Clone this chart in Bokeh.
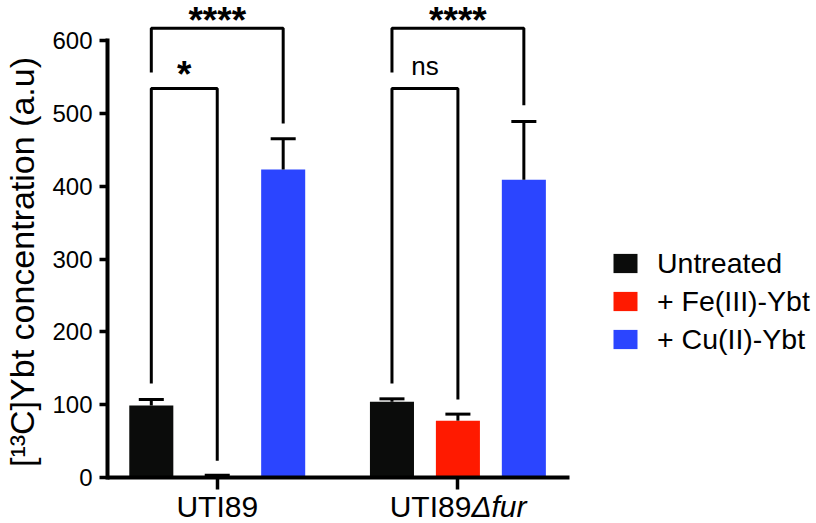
from bokeh.plotting import figure
from bokeh.models import Legend, LegendItem, FixedTicker, Range1d
from bokeh.core.properties import value
from bokeh.embed import file_html
from bokeh.resources import INLINE

# ---------------- data ----------------
groups = ["UTI89", "UTI89"]       # upright part of each group label
group_suffix = ["", "Δfur"]       # italic part of each group label
series = ["Untreated", "+ Fe(III)-Ybt", "+ Cu(II)-Ybt"]
colors = ["#0b0c0b", "#ff1a00", "#2b45ff"]
mean_uti89 = [99, 2, 423]
err_uti89 = [8, 1, 42]
mean_fur = [104, 78, 409]
err_fur = [4, 9, 80]
y_ticks = [0, 100, 200, 300, 400, 500, 600]

# significance brackets: group, bar from, bar to, top, left/right leg ends, label
sig_group = [0, 0, 1, 1]
sig_from = [0, 0, 0, 0]
sig_to = [1, 2, 1, 2]
sig_top = [534, 617, 534, 617]
sig_left_end = [129, 556, 129, 556]
sig_right_end = [23, 486, 107, 511]
sig_label = ["*", "****", "ns", "****"]

# ---------------- layout ----------------
OFFSET = 0.274
BAR_W = 0.183
CAP_W = 0.104
Y_START, Y_END = -63.2, 655
X_START, X_END = -0.456, 2.49
FONT = "Liberation Sans"

means = [mean_uti89, mean_fur]
errs = [err_uti89, err_fur]

p = figure(width=816, height=523, output_backend="svg", toolbar_location=None,
           x_range=Range1d(X_START, X_END), y_range=Range1d(Y_START, Y_END),
           min_border_left=106, min_border_right=0, min_border_top=0,
           min_border_bottom=0)
p.outline_line_color = None
p.grid.visible = False
p.background_fill_color = "white"

def bx(g, i):
    return g + (i - 1) * OFFSET

renderers = []
for i, s in enumerate(series):
    xs = [bx(g, i) for g in range(len(means))]
    tops = [means[g][i] for g in range(len(means))]
    r = p.vbar(x=xs, top=tops, bottom=0, width=BAR_W, fill_color=colors[i],
               line_color=None)
    renderers.append(r)
    hi = [means[g][i] + errs[g][i] for g in range(len(means))]
    p.segment(x0=xs, y0=tops, x1=xs, y1=hi, line_color="black", line_width=3)
    p.segment(x0=[x - CAP_W / 2 for x in xs], y0=hi,
              x1=[x + CAP_W / 2 for x in xs], y1=hi,
              line_color="black", line_width=3)

# brackets
bxs, bys = [], []
tx, ty, tl, tsz, tst = [], [], [], [], []
for k in range(len(sig_label)):
    x0 = bx(sig_group[k], sig_from[k])
    x1 = bx(sig_group[k], sig_to[k])
    bxs.append([x0, x0, x1, x1])
    bys.append([sig_left_end[k], sig_top[k], sig_top[k], sig_right_end[k]])
    tx.append((x0 + x1) / 2)
    if "*" in sig_label[k]:
        ty.append(min(sig_top[k] + 19.3, Y_END - 27.5))
        tsz.append("37px")
        tst.append("bold")
    else:
        ty.append(sig_top[k] + 31)
        tsz.append("26px")
        tst.append("normal")
    tl.append(sig_label[k])
p.multi_line(xs=bxs, ys=bys, line_color="black", line_width=3)
p.text(x=tx, y=ty, text=tl, text_font_size=tsz, text_font_style=tst,
       text_align="center", text_baseline="alphabetic",
       text_font=value(FONT), text_color="black")

# axes
for ax in (p.xaxis[0], p.yaxis[0]):
    ax.axis_line_width = 4
    ax.axis_line_color = "black"
    ax.axis_line_cap = "square"
    ax.major_tick_line_color = "black"
    ax.major_tick_line_width = 3.5
    ax.major_tick_in = 0
    ax.minor_tick_line_color = None
    ax.major_label_text_font = FONT
    ax.major_label_text_color = "black"

p.yaxis.ticker = FixedTicker(ticks=y_ticks)
p.yaxis.bounds = (0, 600)
p.yaxis.major_tick_out = 8
p.yaxis.major_label_text_font_size = "24px"
p.yaxis.major_label_standoff = 7
p.yaxis.axis_label = "[¹³C]Ybt concentration (a.u)"
p.yaxis.axis_label_text_font = FONT
p.yaxis.axis_label_text_font_size = "34px"
p.yaxis.axis_label_text_font_style = "normal"
p.yaxis.axis_label_text_color = "black"
p.yaxis.axis_label_standoff = 8

p.xaxis.ticker = FixedTicker(ticks=list(range(len(groups))))
p.xaxis.bounds = (X_START, 2 * 0.5 - X_START)
p.xaxis.fixed_location = 0
p.xaxis.major_tick_out = 12
p.xaxis.major_label_overrides = {g: "" for g in range(len(groups))}

# group labels (upright part + italic part), drawn as text glyphs below the axis
SPLIT = 0.056
LABEL_Y = -39.5
gx_plain, gt_plain, ga_plain = [], [], []
gx_it, gt_it = [], []
for g in range(len(groups)):
    if group_suffix[g]:
        gx_plain.append(g + SPLIT); gt_plain.append(groups[g]); ga_plain.append("right")
        gx_it.append(g + SPLIT); gt_it.append(group_suffix[g])
    else:
        gx_plain.append(g); gt_plain.append(groups[g]); ga_plain.append("center")
p.text(x=gx_plain, y=[LABEL_Y] * len(gx_plain), text=gt_plain, text_align=ga_plain,
       text_baseline="alphabetic", text_font=value(FONT), text_font_size="30px",
       text_color="black")
p.text(x=gx_it, y=[LABEL_Y] * len(gx_it), text=gt_it, text_align="left",
       text_baseline="alphabetic", text_font=value(FONT), text_font_size="30px",
       text_font_style="italic", text_color="black")

legend = Legend(items=[LegendItem(label=s, renderers=[r]) for s, r in zip(series, renderers)],
                location=(503, 167), orientation="vertical",
                glyph_width=30, glyph_height=24, label_height=34, spacing=4,
                label_standoff=17, padding=0, margin=0,
                border_line_color=None, background_fill_alpha=0,
                label_text_font=FONT, label_text_font_size="28.5px",
                label_text_color="black", label_text_baseline="middle")
p.add_layout(legend)

open("out.html", "w").write(file_html(p, INLINE))
